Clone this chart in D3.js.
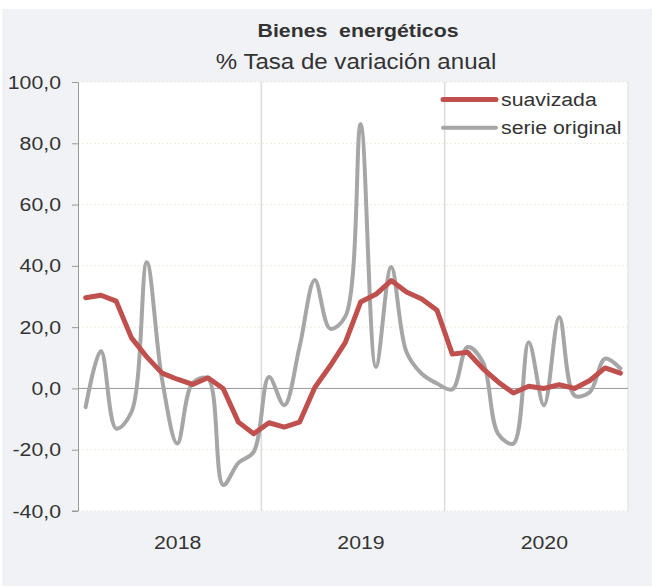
<!DOCTYPE html>
<html>
<head>
<meta charset="utf-8">
<script src="https://cdn.jsdelivr.net/npm/d3@7"></script>
<style>
  body { margin: 0; background: #fff; }
  svg { display: block; font-family: "Liberation Sans", Arial, sans-serif; }
</style>
</head>
<body>
<div id="chart"></div>
<script>
// meses ene 2018 - dic 2020
var years = ["2018", "2019", "2020"];
var months = [];
years.forEach(function (y) {
  for (var m = 1; m <= 12; m++) months.push(y + "-" + m);
});

var suavizada = [
  29.6, 30.4, 28.5, 16.5, 10.3, 5.0, 3.0, 1.3, 3.5, 0.0, -11.0, -14.8,
  -11.2, -12.6, -11.0, 0.3, 7.3, 15.0, 28.2, 30.7, 35.2, 31.5, 29.2, 25.5,
  11.2, 11.8, 6.5, 2.1, -1.5, 0.7, 0.0, 1.2, 0.0, 2.6, 6.7, 5.0
];
var original = [
  -6.1, 12.2, -13.1, -7.7, 41.2, 3.0, -18.0, 1.8, 3.2, -31.5, -24.3, -20.7,
  3.7, -5.5, 13.5, 35.4, 19.5, 23.5, 86.3, 7.0, 39.6, 11.9, 4.8, 1.6,
  -0.3, 13.5, 8.6, -14.8, -18.0, 15.1, -5.5, 23.3, -2.3, -1.2, 9.7, 6.5
];
var yTicks = [-40, -20, 0, 20, 40, 60, 80, 100];

var W = 653, H = 587;
var SX = 1.12; // el texto del original es algo más ancho que Arial
var margin = { top: 82, right: 25, bottom: 76, left: 78 };
var width = W - margin.left - margin.right,
  height = H - margin.top - margin.bottom;

var svg = d3.select("#chart").append("svg")
  .attr("width", W)
  .attr("height", H);

// fondo gris
svg.append("rect")
  .attr("x", 2).attr("y", 9)
  .attr("width", W - 3).attr("height", H - 10)
  .attr("fill", "#f1f2f6");

function label(sel, x, y) {
  return sel.attr("transform", "translate(" + x + "," + y + ") scale(" + SX + ",1)");
}

label(svg.append("text"), 358, 37)
  .attr("text-anchor", "middle")
  .attr("font-size", 19).attr("font-weight", "bold")
  .attr("fill", "#333")
  .attr("xml:space", "preserve")
  .text("Bienes  energéticos");
label(svg.append("text"), 356, 69)
  .attr("text-anchor", "middle")
  .attr("font-size", 21.5)
  .attr("fill", "#333")
  .text("% Tasa de variación anual");

var g = svg.append("g")
  .attr("transform", "translate(" + margin.left + "," + margin.top + ")");

var x = d3.scaleBand().domain(months).range([0, width]);
var xYear = d3.scaleBand().domain(years).range([0, width]);
var y = d3.scaleLinear().domain([-40, 100]).range([height, 0]);

g.append("rect")
  .attr("width", width).attr("height", height)
  .attr("fill", "#fff");

// rejilla horizontal
g.selectAll(".hgrid")
  .data(yTicks.filter(function (d) { return d !== 0; }))
  .enter().append("line")
  .attr("x1", 0).attr("x2", width)
  .attr("y1", function (d) { return y(d); })
  .attr("y2", function (d) { return y(d); })
  .attr("stroke", "#ecebdc")
  .attr("stroke-dasharray", "2,2");

// separadores de año
g.selectAll(".vgrid")
  .data(years.slice(1))
  .enter().append("line")
  .attr("x1", function (d) { return xYear(d); })
  .attr("x2", function (d) { return xYear(d); })
  .attr("y1", 0).attr("y2", height)
  .attr("stroke", "#dcdcdc").attr("stroke-width", 1.5);

g.append("line")
  .attr("x1", width).attr("x2", width)
  .attr("y1", 0).attr("y2", height)
  .attr("stroke", "#dedede");

g.append("line")
  .attr("x1", 0).attr("x2", width)
  .attr("y1", y(0)).attr("y2", y(0))
  .attr("stroke", "#999");

var yAxis = g.append("g")
  .call(d3.axisLeft(y).tickValues(yTicks).tickSize(6).tickPadding(10)
    .tickFormat(function (d) {
      return d3.format(".1f")(d).replace(".", ",").replace("\u2212", "-");
    }));
yAxis.select(".domain").attr("stroke", "#999").attr("d", "M-6,0.5H0.5V" + height + "H-6");
yAxis.selectAll(".tick line").attr("stroke", "#999");
yAxis.selectAll("text")
  .attr("font-size", 19).attr("fill", "#333")
  .attr("font-family", "Liberation Sans, Arial, sans-serif")
  .attr("x", -17 / SX)
  .attr("transform", "scale(" + SX + ",1)");

// etiquetas de año (algo desplazadas a la derecha como en el original)
g.selectAll(".year")
  .data(years)
  .enter().append("text")
  .attr("transform", function (d) {
    return "translate(" + (xYear(d) + xYear.bandwidth() / 2 + 8) + "," + (height + 38) + ") scale(" + SX + ",1)";
  })
  .attr("text-anchor", "middle")
  .attr("font-size", 19).attr("fill", "#333")
  .text(function (d) { return d; });

var px = function (d, i) { return x(months[i]) + x.bandwidth() / 2; };

g.append("path")
  .datum(original)
  .attr("fill", "none")
  .attr("stroke", "#a6a6a6")
  .attr("stroke-width", 4)
  .attr("stroke-linecap", "round")
  .attr("d", d3.line().x(px).y(function (d) { return y(d); }).curve(d3.curveCatmullRom.alpha(0.5)));

g.append("path")
  .datum(suavizada)
  .attr("fill", "none")
  .attr("stroke", "#c0504d")
  .attr("stroke-width", 5)
  .attr("stroke-linejoin", "round")
  .attr("stroke-linecap", "round")
  .attr("d", d3.line().x(px).y(function (d) { return y(d); }));

// leyenda
var legend = [
  { name: "suavizada", color: "#c0504d", w: 5 },
  { name: "serie original", color: "#a6a6a6", w: 4 }
];
var lg = svg.selectAll(".legend")
  .data(legend)
  .enter().append("g")
  .attr("transform", function (d, i) { return "translate(443," + (99.5 + i * 28.3) + ")"; });
lg.append("line")
  .attr("x1", 0).attr("x2", 53)
  .attr("stroke", function (d) { return d.color; })
  .attr("stroke-width", function (d) { return d.w; })
  .attr("stroke-linecap", "round");
lg.append("text")
  .attr("transform", "translate(58,6.5) scale(" + SX + ",1)")
  .attr("font-size", 19).attr("fill", "#333")
  .text(function (d) { return d.name; });
</script>
</body>
</html>
